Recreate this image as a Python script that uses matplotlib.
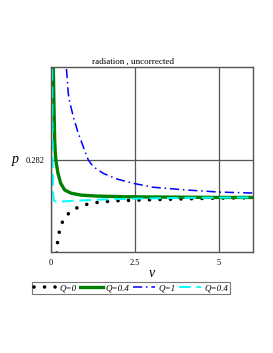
import matplotlib
matplotlib.use("Agg")
import matplotlib.pyplot as plt

# values
v_q0 = [0.15, 0.179, 0.218, 0.278, 0.388, 0.597, 0.836, 1.113, 1.412, 1.71, 2.009, 2.558, 3.2, 4.0, 5.0, 6.05]
p_q0 = [0.2775, 0.27823, 0.27866, 0.27907, 0.27946, 0.27977, 0.27996, 0.28008, 0.28015, 0.28019, 0.28022,
        0.28024, 0.28027, 0.2803, 0.28033, 0.28035]

v_q04 = [0.05, 0.069, 0.09, 0.11, 0.128, 0.158, 0.209, 0.29, 0.409, 0.606, 0.904, 1.352, 2.2, 3.0, 4.0, 5.0, 6.05]
p_q04 = [0.2885, 0.286, 0.2842, 0.28284, 0.28227, 0.28184, 0.2814, 0.28097, 0.28068, 0.28054, 0.28046,
         0.28042, 0.28039, 0.28038, 0.28037, 0.28036, 0.28036]

v_q1 = [0.42, 0.457, 0.516, 0.546, 0.666, 0.815, 0.964, 1.113, 1.263, 1.561, 1.961, 2.457, 3.054,
        4.051, 5.045, 6.05]
p_q1 = [0.2875, 0.286, 0.28486, 0.28457, 0.28385, 0.28313, 0.28255, 0.28198, 0.28169, 0.2814, 0.28116,
        0.28097, 0.2808, 0.28068, 0.28059, 0.28055]

v_q04b = [0.03, 0.04, 0.05, 0.065, 0.09, 0.15, 0.3, 0.6, 1.35, 2.2, 3.0, 4.0, 5.0, 6.05]
p_q04b = [0.29, 0.2845, 0.2818, 0.2805, 0.28022, 0.28017, 0.28018, 0.28021, 0.28026, 0.2803, 0.28032,
          0.28034, 0.28035, 0.28036]

labels = ["Q=0", "Q=0.4", "Q=1", "Q=0.4"]
xticks = [0, 2.5, 5]
yticks = [0.282]

plt.rcParams['font.family'] = ['Liberation Serif', 'DejaVu Serif']

fig = plt.figure(figsize=(2.73, 3.53), dpi=100)
ax = fig.add_axes([0.1868, 0.2861, 0.7388, 0.524])

ax.plot(v_q0, p_q0, color='black', lw=2.6, linestyle=(0, (0.01, 2.9)), dash_capstyle='round', label=labels[0])
ax.plot(v_q04, p_q04, color='#008000', lw=2.4, label=labels[1])
ax.plot(v_q1, p_q1, color='#0000ff', lw=1.1, linestyle=(0, (6, 2.5, 1, 2.5)), label=labels[2])
ax.plot(v_q04b, p_q04b, color='#00ffff', lw=1.4, linestyle=(0, (6, 3)), label=labels[3])

ax.set_xlim(0, 6.02)
ax.set_ylim(0.278, 0.286)
ax.set_xticks(xticks)
ax.set_xticklabels(['0', '2.5', '5'], fontsize=6)
ax.set_yticks(yticks)
ax.set_yticklabels(['0.282'], fontsize=6)
ax.tick_params(length=0, pad=5)
ax.grid(True, color='#555555', lw=0.9)
for s in ax.spines.values():
    s.set_color('#555555')
    s.set_linewidth(1.0)

ax.set_xlabel('v', fontsize=10, style='italic', labelpad=0)
fig.text(15 / 273, 1 - 160 / 353, 'p', fontsize=10, style='italic', ha='center', va='center')
fig.text(133 / 273, 1 - 62 / 353, 'radiation , uncorrected', fontsize=6.5, ha='center', va='center')

leg = fig.legend(loc='center', bbox_to_anchor=(131 / 273, 1 - 288 / 353), ncol=4,
                 prop={'style': 'italic', 'size': 6.5}, handlelength=2.5, handletextpad=0.3,
                 columnspacing=0.4, borderpad=0.25, frameon=True, fancybox=False, edgecolor='#555555')
leg.get_frame().set_linewidth(0.8)

fig.savefig('out.png', dpi=100)
